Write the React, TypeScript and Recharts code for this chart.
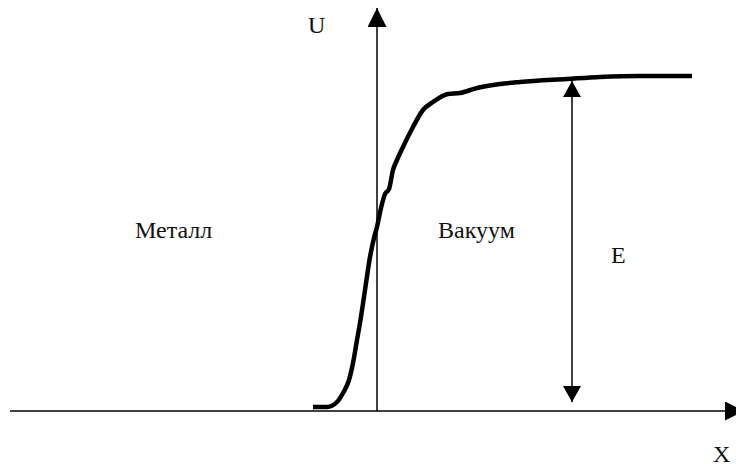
import React from "react";
import {
  LineChart,
  Line,
  XAxis,
  YAxis,
  ReferenceLine,
  ReferenceDot,
} from "recharts";

// ---------------------------------------------------------------------------
// Data: potential energy U across the metal / vacuum boundary (x = 0)
// ---------------------------------------------------------------------------

const X_POS = [
  -64, -50, -40, -34, -28, -24, -20, -17, -12, -7, -3, 0, 4, 8, 12, 16, 20, 26,
  36, 46, 56, 71, 83, 100, 123, 143, 190, 223, 263, 315,
];
const U_VALUES = [
  4, 4, 9, 18, 31, 48, 71, 88, 121, 154, 173, 184, 203, 217, 222, 241, 251, 264,
  284, 301, 309, 317, 318, 323, 327, 329, 332, 334, 335, 335,
];

// work function E, marked by a double arrow
const E_AT_X = 195;
const E_RANGE = [9, 330];

// axis extents
const X_AXIS_RANGE = [-367, 367];
const U_AXIS_TOP = 403;

const LABELS = [
  { text: "U", x: -69, y: 378 },
  { text: "X", x: 336, y: -51 },
  { text: "Металл", x: -242, y: 173 },
  { text: "Вакуум", x: 61, y: 173 },
  { text: "E", x: 234, y: 148 },
];

const data = X_POS.map((x, i) => ({ x, u: U_VALUES[i] }));

const INK = "#000";
const FONT = "Liberation Serif, Times New Roman, serif";

// ---------------------------------------------------------------------------
// Shapes
// ---------------------------------------------------------------------------

function arrowLine(markerStart?: string, markerEnd?: string) {
  // eslint-disable-next-line @typescript-eslint/no-explicit-any
  return (p: any) => (
    <line
      x1={p.x1}
      y1={p.y1}
      x2={p.x2}
      y2={p.y2}
      stroke={INK}
      strokeWidth={1.5}
      markerStart={markerStart}
      markerEnd={markerEnd}
    />
  );
}

export default function App() {
  return (
    <div style={{ position: "absolute", left: 0, top: 0, background: "#fff" }}>
      <LineChart
        width={736}
        height={464}
        data={data}
        margin={{ top: 0, right: 0, bottom: 0, left: 0 }}
      >
        <defs>
          <marker
            id="axisHead"
            viewBox="0 0 20 20"
            refX={20}
            refY={10}
            markerWidth={20}
            markerHeight={19}
            markerUnits="userSpaceOnUse"
            orient="auto"
          >
            <path d="M0,0 L20,10 L0,20 z" fill={INK} />
          </marker>
          <marker
            id="eHead"
            viewBox="0 0 16 18"
            refX={16}
            refY={9}
            markerWidth={16}
            markerHeight={18}
            markerUnits="userSpaceOnUse"
            orient="auto-start-reverse"
          >
            <path d="M0,0 L16,9 L0,18 z" fill={INK} />
          </marker>
        </defs>
        <XAxis type="number" dataKey="x" domain={[-377, 359]} hide allowDataOverflow />
        <YAxis type="number" domain={[-53, 411]} hide allowDataOverflow />

        {/* X axis */}
        <ReferenceLine
          segment={[
            { x: X_AXIS_RANGE[0], y: 0 },
            { x: X_AXIS_RANGE[1], y: 0 },
          ]}
          ifOverflow="visible"
          shape={arrowLine(undefined, "url(#axisHead)")}
        />
        {/* U axis */}
        <ReferenceLine
          segment={[
            { x: 0, y: 0 },
            { x: 0, y: U_AXIS_TOP },
          ]}
          ifOverflow="visible"
          shape={arrowLine(undefined, "url(#axisHead)")}
        />
        {/* E double arrow */}
        <ReferenceLine
          segment={[
            { x: E_AT_X, y: E_RANGE[0] },
            { x: E_AT_X, y: E_RANGE[1] },
          ]}
          ifOverflow="visible"
          shape={arrowLine("url(#eHead)", "url(#eHead)")}
        />

        <Line
          type="monotone"
          dataKey="u"
          stroke={INK}
          strokeWidth={4.5}
          strokeLinecap="butt"
          dot={false}
          activeDot={false}
          isAnimationActive={false}
        />

        {LABELS.map((l) => (
          <ReferenceDot
            key={l.text}
            x={l.x}
            y={l.y}
            r={0}
            ifOverflow="visible"
            // eslint-disable-next-line @typescript-eslint/no-explicit-any
            shape={(p: any) => (
              <text
                x={p.cx}
                y={p.cy}
                fill="#111"
                style={{ fontFamily: FONT, fontSize: 24 }}
              >
                {l.text}
              </text>
            )}
          />
        ))}
      </LineChart>
    </div>
  );
}
